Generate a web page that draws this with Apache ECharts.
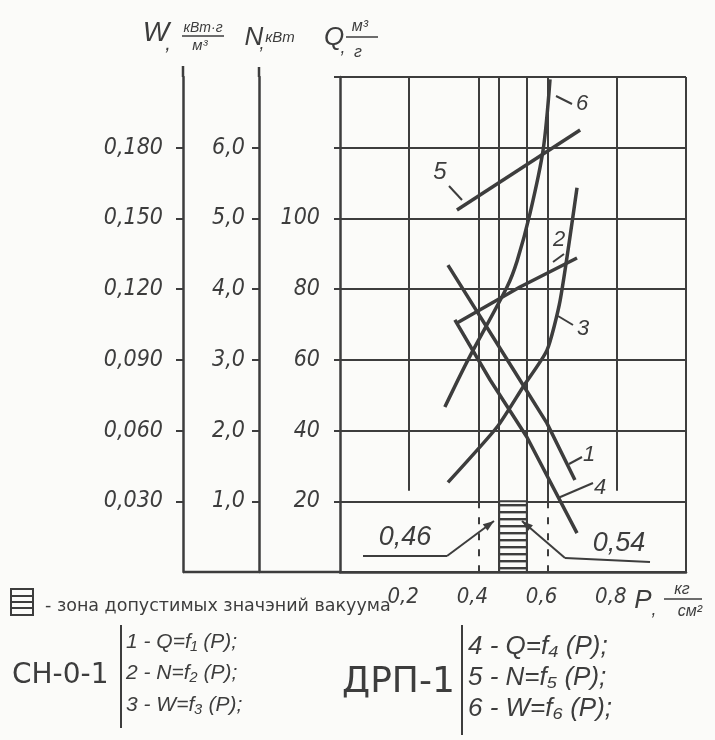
<!DOCTYPE html>
<html><head><meta charset="utf-8">
<script src="https://cdn.jsdelivr.net/npm/echarts@6/dist/echarts.min.js"></script>
<style>html,body{margin:0;padding:0;background:#fbfbf9;}#c{width:715px;height:740px;}</style>
</head><body><div id="c"></div>
<script>
// ---- data ----
const pTicks = [0.2, 0.4, 0.6, 0.8];
const qTicks = [20, 40, 60, 80, 100];
const nTicks = [1, 2, 3, 4, 5, 6];
const wTicks = [0.03, 0.06, 0.09, 0.12, 0.15, 0.18];
const zoneP = [0.46, 0.54];
const zoneQ = 20;
// СН-0-1
const curve1Q = [[0.312, 86.8], [0.52, 54.3], [0.598, 42.1], [0.679, 26.0]];
const curve2N = [[0.338, 3.52], [0.52, 4.03], [0.685, 4.44]];
const curve3W = [[0.312, 0.038], [0.454, 0.0615], [0.529, 0.0785], [0.598, 0.094], [0.636, 0.115], [0.685, 0.163]];
// ДРП-1
const curve4Q = [[0.332, 71.3], [0.434, 54.3], [0.54, 38.2], [0.685, 11.0]];
const curve5N = [[0.338, 5.12], [0.694, 6.25]];
const curve6W = [[0.303, 0.070], [0.37, 0.090], [0.483, 0.121], [0.512, 0.132], [0.549, 0.152], [0.587, 0.179], [0.607, 0.209]];

// ---- styling ----
const INK = '#3d3d3d';
const BG = '#fbfbf9';
const NARROW = "'Liberation Sans Narrow','DejaVu Sans Condensed','Liberation Sans',sans-serif";
const SANS = "'Liberation Sans','DejaVu Sans',sans-serif";
const G = {left: 340, right: 29, top: 77, bottom: 168};
const W_OFF = 157, N_OFF = 81;

function stripes() {
  const c = document.createElement('canvas'); c.width = 8; c.height = 7;
  const g = c.getContext('2d'); g.fillStyle = BG; g.fillRect(0, 0, 8, 7);
  g.fillStyle = INK; g.fillRect(0, 0, 8, 2.4);
  return c;
}
const comma = (v, d) => v.toFixed(d).replace('.', ',');

function curve(data, yi, smooth) {
  return {type: 'line', yAxisIndex: yi, data: data, showSymbol: false, silent: true,
    smooth: smooth || false, lineStyle: {color: INK, width: 3.5}, z: 3, emphasis: {disabled: true}};
}

// grid segments (vertical) built from tick values
const qMax = 140;
const vSeg = [];
pTicks.concat([1.0]).forEach(p => {
  if (Math.abs(p - 0.4) < 1e-9 || Math.abs(p - 0.6) < 1e-9) {
    vSeg.push([{coord: [p, qMax]}, {coord: [p, zoneQ]}]);
    vSeg.push([{coord: [p, zoneQ], lineStyle: {type: [7, 9]}}, {coord: [p, 0]}]);
  } else if (p >= 0.999) {
    vSeg.push([{coord: [p, qMax]}, {coord: [p, 0]}]);
  } else {
    vSeg.push([{coord: [p, qMax]}, {coord: [p, zoneQ + 3]}]);
  }
});
zoneP.forEach(p => vSeg.push([{coord: [p, qMax]}, {coord: [p, 0]}]));

const s1 = curve(curve1Q, 0, false);
s1.markLine = {silent: true, symbol: ['none', 'none'], label: {show: false}, animation: false,
  lineStyle: {color: INK, width: 2, type: 'solid'}, emphasis: {disabled: true}, data: vSeg};
s1.markArea = {silent: true, label: {show: false},
  itemStyle: {color: {image: stripes(), repeat: 'repeat'}, borderColor: INK, borderWidth: 2},
  data: [[{coord: [zoneP[0], 0]}, {coord: [zoneP[1], zoneQ]}]]};

const tickLabel = {color: INK, fontStyle: 'italic', fontFamily: NARROW, fontSize: 23};

function txt(t, x, y, size, opts) {
  opts = opts || {};
  return {type: 'text', x: x, y: y, z: 10, silent: true, style: {
    text: t, fill: INK, fontSize: size, fontFamily: opts.family || SANS, fontStyle: opts.italic === false ? 'normal' : 'italic',
    align: opts.align || 'center', textAlign: opts.align || 'center', verticalAlign: 'middle', textVerticalAlign: 'middle'}};
}
function ln(x1, y1, x2, y2, w) {
  return {type: 'line', z: 10, silent: true, shape: {x1: x1, y1: y1, x2: x2, y2: y2}, style: {stroke: INK, lineWidth: w || 2}};
}
function arrow(x1, y1, x2, y2) {
  const a = Math.atan2(y2 - y1, x2 - x1), L = 11, H = 4;
  const bx = x2 - L * Math.cos(a), by = y2 - L * Math.sin(a);
  return [ln(x1, y1, x2, y2, 2),
    {type: 'polygon', z: 10, silent: true, shape: {points: [[x2, y2], [bx - H * Math.sin(a), by + H * Math.cos(a)], [bx + H * Math.sin(a), by - H * Math.cos(a)]]}, style: {fill: INK}}];
}

const bottomY = 740 - G.bottom, xW = G.left - W_OFF, xN = G.left - N_OFF;
const UP = "'DejaVu Sans',sans-serif";
const graphics = [
  // axis titles
  txt('W', 156, 33, 28), txt(',', 168, 44, 20),
  txt('кВт·г', 203, 28, 14), ln(182, 36, 224, 36, 1.5), txt('м³', 200, 46, 15),
  txt('N', 254, 38, 26), txt(',', 262, 44, 18), txt('кВт', 280, 38, 15),
  txt('Q', 334, 38, 26), txt(',', 343, 48, 18), txt('м³', 360, 27, 16), ln(346, 37, 378, 37, 1.5), txt('г', 358, 53, 16),
  // extension of axes
  ln(xW, bottomY, G.left, bottomY, 2.5), ln(xW, 66, xW, G.top, 2.5), ln(xN, 67, xN, G.top, 2.5),
  // x axis name
  txt('P', 643, 601, 26), txt(',', 654, 610, 18), txt('кг', 682, 590, 16), ln(664, 599, 702, 599, 1.5), txt('см²', 690, 612, 16),
  // curve labels
  txt('6', 582, 104, 22), ln(556, 96, 572, 104, 2),
  txt('5', 440, 172, 24), ln(449, 186, 462, 200, 2),
  txt('2', 559, 240, 22), ln(553, 262, 564, 254, 2),
  txt('3', 583, 329, 22), ln(558, 316, 573, 325, 2),
  txt('1', 589, 455, 22), ln(569, 464, 582, 457, 2),
  txt('4', 600, 488, 22), ln(558, 498, 593, 483, 2),
  // zone annotations
  txt('0,46', 405, 537, 27), ln(363, 556, 447, 556, 2),
  txt('0,54', 619, 543, 27), ln(565, 558, 650, 562, 2),
  // legend
  {type: 'rect', z: 10, silent: true, shape: {x: 11, y: 589, width: 22, height: 26}, style: {fill: 'none', stroke: INK, lineWidth: 2}},
  ln(11, 596, 33, 596, 2), ln(11, 602, 33, 602, 2), ln(11, 608, 33, 608, 2),
  txt('- зона допустимых значэний вакуума', 45, 606, 17.5, {align: 'left', italic: false, family: UP}),
  txt('СН-0-1', 12, 676, 28, {align: 'left', italic: false, family: UP}),
  ln(121, 625, 121, 728, 2),
  txt('1 - Q=f₁ (P);', 126, 642, 21, {align: 'left'}),
  txt('2 - N=f₂ (P);', 126, 673, 21, {align: 'left'}),
  txt('3 - W=f₃ (P);', 126, 705, 21, {align: 'left'}),
  txt('ДРП-1', 342, 683, 36, {align: 'left', italic: false, family: UP}),
  ln(462, 625, 462, 735, 2),
  txt('4 - Q=f₄ (P);', 468, 647, 26, {align: 'left'}),
  txt('5 - N=f₅ (P);', 468, 678, 26, {align: 'left'}),
  txt('6 - W=f₆ (P);', 468, 709, 26, {align: 'left'})
].concat(arrow(447, 556, 494, 521)).concat(arrow(565, 558, 522, 521));

const option = {
  backgroundColor: BG,
  animation: false,
  grid: {left: G.left, right: G.right, top: G.top, bottom: G.bottom, containLabel: false},
  xAxis: {type: 'value', min: 0, max: 1, interval: 0.2,
    axisLine: {show: true, lineStyle: {color: INK, width: 2.5}},
    axisTick: {show: false}, splitLine: {show: false},
    axisLabel: {customValues: pTicks, formatter: v => comma(v, 1), color: INK, fontStyle: 'italic', fontFamily: NARROW, fontSize: 22, margin: 14, padding: [0, 12, 0, 0]}},
  yAxis: [
    {type: 'value', position: 'left', offset: 0, min: 0, max: qMax, interval: 20,
      axisLine: {show: true, lineStyle: {color: INK, width: 2.5}},
      axisTick: {show: true, length: 6, lineStyle: {color: INK, width: 2}},
      splitLine: {show: true, lineStyle: {color: INK, width: 2}},
      axisLabel: Object.assign({customValues: qTicks, formatter: v => String(v), margin: 20, padding: [0, 0, 8, 0]}, tickLabel)},
    {type: 'value', position: 'left', offset: N_OFF, min: 0, max: 7, interval: 1,
      axisLine: {show: true, lineStyle: {color: INK, width: 2.5}},
      axisTick: {show: true, customValues: nTicks, length: 7, lineStyle: {color: INK, width: 2}},
      splitLine: {show: false},
      axisLabel: Object.assign({customValues: nTicks, formatter: v => comma(v, 1), margin: 14, padding: [0, 0, 8, 0]}, tickLabel)},
    {type: 'value', position: 'left', offset: W_OFF, min: 0, max: 0.21, interval: 0.03,
      axisLine: {show: true, lineStyle: {color: INK, width: 2.5}},
      axisTick: {show: true, customValues: wTicks, length: 7, lineStyle: {color: INK, width: 2}},
      splitLine: {show: false},
      axisLabel: Object.assign({customValues: wTicks, formatter: v => comma(v, 3), margin: 20, padding: [0, 0, 8, 0]}, tickLabel)}
  ],
  graphic: graphics,
  series: [
    s1,
    curve(curve2N, 1, false),
    curve(curve3W, 2, 0.2),
    curve(curve4Q, 0, false),
    curve(curve5N, 1, false),
    curve(curve6W, 2, 0.3)
  ]
};
const chart = echarts.init(document.getElementById('c'), null, {renderer: 'canvas'});
chart.setOption(option);
</script></body></html>
